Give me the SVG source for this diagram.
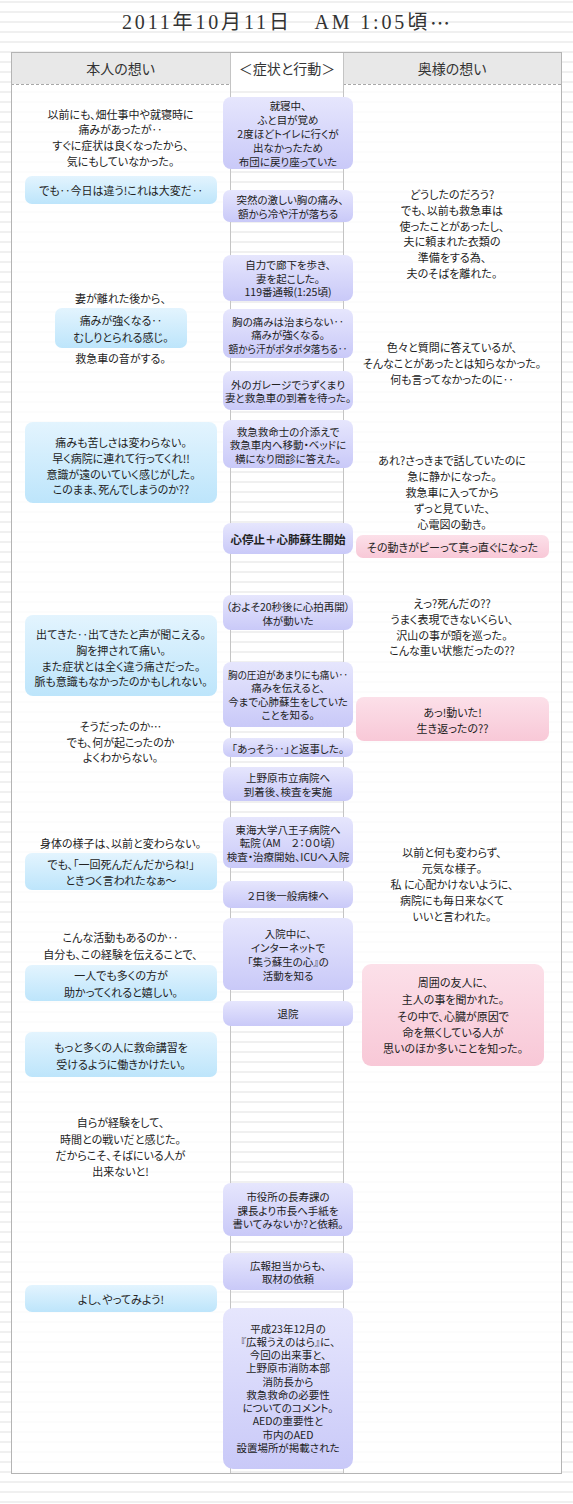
<svg xmlns="http://www.w3.org/2000/svg" width="573" height="1504" viewBox="0 0 573 1504">
<defs>
<pattern id="stripes" width="10" height="10" patternUnits="userSpaceOnUse"><rect width="10" height="10" fill="#ffffff"/><rect y="1" width="10" height="2" fill="#f0f0f0"/></pattern>
<linearGradient id="gBlue" x1="0" y1="0" x2="0" y2="1"><stop offset="0" stop-color="#e3f4fe"/><stop offset="1" stop-color="#bde5fb"/></linearGradient>
<linearGradient id="gLav" x1="0" y1="0" x2="0" y2="1"><stop offset="0" stop-color="#e6e6fd"/><stop offset="1" stop-color="#c9c9f8"/></linearGradient>
<linearGradient id="gPink" x1="0" y1="0" x2="0" y2="1"><stop offset="0" stop-color="#fce0e9"/><stop offset="1" stop-color="#f8c8d7"/></linearGradient>
</defs>
<style>
text { font-family: "Noto Sans CJK JP", "Noto Sans", sans-serif; fill: #222; text-anchor: middle; dominant-baseline: central; font-feature-settings: "palt"; }
.s { font-size: 11px; }
.c { font-size: 10.5px; }
.h { font-size: 14px; fill: #333; }
.b { font-weight: bold; font-size: 11.5px; }
.title { font-family: "Liberation Serif", "Noto Sans CJK JP", serif; font-size: 20px; fill: #333; }
.ell { font-family: "Noto Sans CJK JP", sans-serif; }
.blue { fill: url(#gBlue); }
.lav { fill: url(#gLav); }
.pink { fill: url(#gPink); }
</style>
<rect width="573" height="1504" fill="url(#stripes)"/>
<g id="title"><text class="title" x="286" y="22" textLength="328" lengthAdjust="spacing">2011年10月11日　AM 1:05頃<tspan class="ell">…</tspan></text></g>
<g id="table">
<rect x="11" y="84" width="219" height="1390" fill="#ffffff" opacity="0.8"/>
<rect x="343" y="84" width="218" height="1390" fill="#ffffff" opacity="0.8"/>
<rect x="11" y="52" width="219" height="32" fill="#e8e8e8"/>
<rect x="230" y="52" width="113" height="32" fill="#ffffff"/>
<rect x="343" y="52" width="218" height="32" fill="#e8e8e8"/>
<line x1="11" y1="84.5" x2="230" y2="84.5" stroke="#a8a8a8" stroke-dasharray="3,2"/>
<line x1="343" y1="84.5" x2="561" y2="84.5" stroke="#a8a8a8" stroke-dasharray="3,2"/>
<line x1="230.5" y1="52" x2="230.5" y2="1474" stroke="#c4c4c4"/>
<line x1="343.5" y1="52" x2="343.5" y2="1474" stroke="#c4c4c4"/>
<rect x="11.5" y="52.5" width="550" height="1421" fill="none" stroke="#b4b4b4"/>
<text class="h" x="120.5" y="68">本人の想い</text>
<text class="h" x="287" y="68">＜症状と行動＞</text>
<text class="h" x="452" y="68">奥様の想い</text>
</g>
<g id="left-1"><text class="s" x="120.5" y="113.5">以前にも、畑仕事中や就寝時に</text><text class="s" x="120.5" y="129.3">痛みがあったが‥</text><text class="s" x="120.5" y="145.1">すぐに症状は良くなったから、</text><text class="s" x="120.5" y="160.9">気にもしていなかった。</text></g>
<g id="left-2"><rect class="blue" x="25" y="176" width="192" height="28" rx="7"/><text class="s" x="121" y="190">でも‥今日は違う!これは大変だ‥</text></g>
<g id="left-3"><text class="s" x="120.5" y="298">妻が離れた後から、</text></g>
<g id="left-4"><rect class="blue" x="55" y="308" width="132" height="40" rx="7"/><text class="s" x="121" y="320">痛みが強くなる‥</text><text class="s" x="121" y="337">むしりとられる感じ。</text></g>
<g id="left-5"><text class="s" x="120.5" y="358">救急車の音がする。</text></g>
<g id="left-6"><rect class="blue" x="25" y="422" width="192" height="81" rx="8"/><text class="s" x="121" y="442">痛みも苦しさは変わらない。</text><text class="s" x="121" y="458">早く病院に連れて行ってくれ!!</text><text class="s" x="121" y="473.5">意識が遠のいていく感じがした。</text><text class="s" x="121" y="489">このまま、死んでしまうのか??</text></g>
<g id="left-7"><rect class="blue" x="25" y="615" width="192" height="81" rx="8"/><text class="s" x="121" y="634">出てきた‥出てきたと声が聞こえる。</text><text class="s" x="121" y="650">胸を押されて痛い。</text><text class="s" x="121" y="666">また症状とは全く違う痛さだった。</text><text class="s" x="121" y="681">脈も意識もなかったのかもしれない。</text></g>
<g id="left-8"><text class="s" x="120.5" y="726">そうだったのか…</text><text class="s" x="120.5" y="742">でも、何が起こったのか</text><text class="s" x="120.5" y="757">よくわからない。</text></g>
<g id="left-9"><text class="s" x="120.5" y="843">身体の様子は、以前と変わらない。</text></g>
<g id="left-10"><rect class="blue" x="25" y="853" width="192" height="37" rx="7"/><text class="s" x="121" y="864">でも、「一回死んだんだからね!」</text><text class="s" x="121" y="880">ときつく言われたなぁ〜</text></g>
<g id="left-11"><text class="s" x="120.5" y="937">こんな活動もあるのか‥</text><text class="s" x="120.5" y="954">自分も、この経験を伝えることで、</text></g>
<g id="left-12"><rect class="blue" x="25" y="965" width="192" height="36" rx="7"/><text class="s" x="121" y="975">一人でも多くの方が</text><text class="s" x="121" y="992">助かってくれると嬉しい。</text></g>
<g id="left-13"><rect class="blue" x="25" y="1032" width="192" height="45" rx="7"/><text class="s" x="121" y="1047">もっと多くの人に救命講習を</text><text class="s" x="121" y="1064">受けるように働きかけたい。</text></g>
<g id="left-14"><text class="s" x="120.5" y="1122">自らが経験をして、</text><text class="s" x="120.5" y="1139">時間との戦いだと感じた。</text><text class="s" x="120.5" y="1155">だからこそ、そばにいる人が</text><text class="s" x="120.5" y="1171">出来ないと!</text></g>
<g id="left-15"><rect class="blue" x="25" y="1285" width="192" height="27" rx="7"/><text class="s" x="121" y="1299">よし、やってみよう!</text></g>
<g id="center-1"><rect class="lav" x="223" y="97" width="130" height="72" rx="8"/><text class="c" x="288" y="105">就寝中、</text><text class="c" x="288" y="119">ふと目が覚め</text><text class="c" x="288" y="133">2度ほどトイレに行くが</text><text class="c" x="288" y="147">出なかったため</text><text class="c" x="288" y="161">布団に戻り座っていた</text></g>
<g id="center-2"><rect class="lav" x="223" y="190" width="130" height="32" rx="7"/><text class="c" x="290" y="199">突然の激しい胸の痛み、</text><text class="c" x="288" y="213">額から冷や汗が落ちる</text></g>
<g id="center-3"><rect class="lav" x="223" y="255" width="130" height="46" rx="8"/><text class="c" x="288" y="264.5">自力で廊下を歩き、</text><text class="c" x="288" y="278">妻を起こした。</text><text class="c" x="288" y="291.5">119番通報(1:25頃)</text></g>
<g id="center-4"><rect class="lav" x="223" y="309" width="130" height="49" rx="8"/><text class="c" x="288" y="321">胸の痛みは治まらない‥</text><text class="c" x="288" y="334.5">痛みが強くなる。</text><text class="c" x="288" y="348" textLength="119" lengthAdjust="spacingAndGlyphs">額から汗がポタポタ落ちる‥</text></g>
<g id="center-5"><rect class="lav" x="223" y="371" width="130" height="39" rx="8"/><text class="c" x="288" y="384">外のガレージでうずくまり</text><text class="c" x="288" y="397">妻と救急車の到着を待った。</text></g>
<g id="center-6"><rect class="lav" x="223" y="420" width="130" height="48" rx="8"/><text class="c" x="288" y="431">救急救命士の介添えで</text><text class="c" x="288" y="444.5">救急車内へ移動・ベッドに</text><text class="c" x="288" y="458">横になり問診に答えた。</text></g>
<g id="center-7"><rect class="lav" x="223" y="523" width="130" height="31" rx="8"/><text class="b" x="288" y="539">心停止＋心肺蘇生開始</text></g>
<g id="center-8"><rect class="lav" x="223" y="595" width="130" height="35" rx="8"/><text class="c" x="288" y="606">（およそ20秒後に心拍再開）</text><text class="c" x="288" y="620">体が動いた</text></g>
<g id="center-9"><rect class="lav" x="223" y="662" width="130" height="65" rx="8"/><text class="c" x="288" y="674.3" textLength="120" lengthAdjust="spacingAndGlyphs">胸の圧迫があまりにも痛い‥</text><text class="c" x="288" y="687.8">痛みを伝えると、</text><text class="c" x="288" y="701.3">今まで心肺蘇生をしていた</text><text class="c" x="288" y="714.8">ことを知る。</text></g>
<g id="center-10"><rect class="lav" x="223" y="738" width="130" height="19" rx="7"/><text class="c" x="288" y="748">「あっそう‥」と返事した。</text></g>
<g id="center-11"><rect class="lav" x="223" y="767" width="130" height="34" rx="8"/><text class="c" x="288" y="777">上野原市立病院へ</text><text class="c" x="288" y="791">到着後、検査を実施</text></g>
<g id="center-12"><rect class="lav" x="223" y="817" width="130" height="51" rx="8"/><text class="c" x="288" y="829">東海大学八王子病院へ</text><text class="c" x="288" y="842.5">転院（AM　２：００頃）</text><text class="c" x="288" y="856">検査・治療開始、ICUへ入院</text></g>
<g id="center-13"><rect class="lav" x="223" y="881" width="130" height="27" rx="8"/><text class="c" x="288" y="895">２日後一般病棟へ</text></g>
<g id="center-14"><rect class="lav" x="223" y="918" width="130" height="72" rx="8"/><text class="c" x="288" y="933">入院中に、</text><text class="c" x="288" y="947">インターネットで</text><text class="c" x="288" y="961">「集う蘇生の心』の</text><text class="c" x="288" y="975">活動を知る</text></g>
<g id="center-15"><rect class="lav" x="223" y="1001" width="130" height="25" rx="8"/><text class="c" x="288" y="1013">退院</text></g>
<g id="center-16"><rect class="lav" x="223" y="1183" width="130" height="53" rx="8"/><text class="c" x="288" y="1196.5">市役所の長寿課の</text><text class="c" x="288" y="1210">課長より市長へ手紙を</text><text class="c" x="288" y="1223.5">書いてみないか?と依頼。</text></g>
<g id="center-17"><rect class="lav" x="223" y="1253" width="130" height="37" rx="8"/><text class="c" x="288" y="1265">広報担当からも、</text><text class="c" x="288" y="1278">取材の依頼</text></g>
<g id="center-18"><rect class="lav" x="223" y="1308" width="130" height="161" rx="10"/><text class="c" x="288" y="1328">平成23年12月の</text><text class="c" x="288" y="1341.3">『広報うえのはら』に、</text><text class="c" x="288" y="1354.5">今回の出来事と、</text><text class="c" x="288" y="1367.8">上野原市消防本部</text><text class="c" x="288" y="1381">消防長から</text><text class="c" x="288" y="1394.3">救急救命の必要性</text><text class="c" x="288" y="1407.5">についてのコメント。</text><text class="c" x="288" y="1420.8">AEDの重要性と</text><text class="c" x="288" y="1434">市内のAED</text><text class="c" x="288" y="1447.3">設置場所が掲載された</text></g>
<g id="right-1"><text class="s" x="452" y="194">どうしたのだろう?</text><text class="s" x="452" y="209.8">でも、以前も救急車は</text><text class="s" x="452" y="225.6">使ったことがあったし、</text><text class="s" x="452" y="241.4">夫に頼まれた衣類の</text><text class="s" x="452" y="257.2">準備をする為、</text><text class="s" x="452" y="273">夫のそばを離れた。</text></g>
<g id="right-2"><text class="s" x="452" y="347">色々と質問に答えているが、</text><text class="s" x="452" y="363">そんなことがあったとは知らなかった。</text><text class="s" x="452" y="378.5">何も言ってなかったのに‥</text></g>
<g id="right-3"><text class="s" x="452" y="460">あれ?さっきまで話していたのに</text><text class="s" x="452" y="476">急に静かになった。</text><text class="s" x="452" y="492">救急車に入ってから</text><text class="s" x="452" y="508">ずっと見ていた、</text><text class="s" x="452" y="524">心電図の動き。</text></g>
<g id="right-4"><rect class="pink" x="356" y="535" width="193" height="23" rx="7"/><text class="s" x="452.5" y="547">その動きがピーって真っ直ぐになった</text></g>
<g id="right-5"><text class="s" x="452" y="603">えっ?死んだの??</text><text class="s" x="452" y="619">うまく表現できないくらい、</text><text class="s" x="452" y="634.5">沢山の事が頭を巡った。</text><text class="s" x="452" y="650">こんな重い状態だったの??</text></g>
<g id="right-6"><rect class="pink" x="356" y="697" width="193" height="44" rx="8"/><text class="s" x="452.5" y="712">あっ!動いた!</text><text class="s" x="452.5" y="728">生き返ったの??</text></g>
<g id="right-7"><text class="s" x="452" y="852">以前と何も変わらず、</text><text class="s" x="452" y="868">元気な様子。</text><text class="s" x="452" y="884" xml:space="preserve">私 に心配かけないように、</text><text class="s" x="452" y="900">病院にも毎日来なくて</text><text class="s" x="452" y="916">いいと言われた。</text></g>
<g id="right-8"><rect class="pink" x="362" y="964" width="182" height="102" rx="9"/><text class="s" x="453" y="982">周囲の友人に、</text><text class="s" x="453" y="999">主人の事を聞かれた。</text><text class="s" x="453" y="1016">その中で、心臓が原因で</text><text class="s" x="453" y="1032">命を無くしている人が</text><text class="s" x="453" y="1048">思いのほか多いことを知った。</text></g>
</svg>
